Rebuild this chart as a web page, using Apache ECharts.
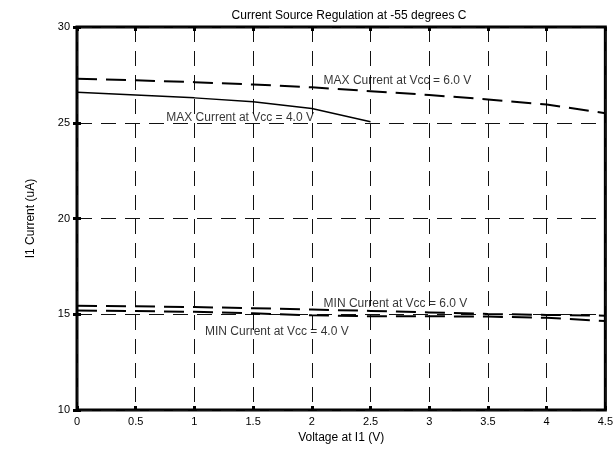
<!DOCTYPE html>
<html>
<head>
<meta charset="utf-8">
<script src="https://cdn.jsdelivr.net/npm/echarts@6/dist/echarts.min.js"></script>
<style>
html,body{margin:0;padding:0;background:#fff;}
#chart{width:616px;height:449px;}
</style>
</head>
<body>
<div id="chart"></div>
<script>
const voltage = [0, 0.5, 1, 1.5, 2, 2.5, 3, 3.5, 4, 4.5];
const max6 = [27.3, 27.22, 27.12, 27.0, 26.85, 26.65, 26.45, 26.22, 25.95, 25.5];
const voltage4 = [0, 0.5, 1, 1.5, 2, 2.5];
const max4 = [26.6, 26.45, 26.3, 26.1, 25.75, 25.05];
const min6 = [15.45, 15.42, 15.38, 15.32, 15.25, 15.18, 15.1, 15.02, 14.97, 14.93];
const min4 = [15.2, 15.17, 15.13, 15.05, 14.95, 14.9, 14.9, 14.88, 14.82, 14.65];
const labelText = ['MAX Current at Vcc = 6.0 V', 'MAX Current at Vcc = 4.0 V', 'MIN Current at Vcc = 6.0 V', 'MIN Current at Vcc = 4.0 V'];
const labelX = [2.1, 0.76, 2.1, 1.09];
const labelY = [27.2, 25.28, 15.54, 14.09];
const xTicks = ['0', '0.5', '1', '1.5', '2', '2.5', '3', '3.5', '4', '4.5'];
const yTicks = ['10', '15', '20', '25', '30'];

const FONT = "'Liberation Sans', Arial, Helvetica, sans-serif";
const chart = echarts.init(document.getElementById('chart'));
const pair = (xs, ys) => xs.map((x, i) => [x, ys[i]]);
const gridLine = { show: true, lineStyle: { color: '#111', width: 1, type: [15, 9] } };
const tickStyle = { show: true, inside: true, length: 4, lineStyle: { color: '#000', width: 3 } };
const fmtX = v => xTicks[Math.round(v / 0.5)];
const fmtY = v => yTicks[Math.round((v - 10) / 5)];

chart.setOption({
  animation: false,
  backgroundColor: '#fff',
  textStyle: { fontFamily: FONT },
  title: {
    text: 'Current Source Regulation at -55 degrees C',
    left: 344, top: 5, textAlign: 'center',
    textStyle: { fontFamily: FONT, fontSize: 12, fontWeight: 'normal', color: '#000' }
  },
  grid: { left: 77, right: 4, top: 27, bottom: 34, show: true, borderColor: '#000', borderWidth: 3, backgroundColor: 'transparent' },
  xAxis: [{
    type: 'value', min: 0, max: 4.5, interval: 0.5, position: 'bottom',
    name: 'Voltage at I1 (V)', nameLocation: 'middle', nameGap: 17,
    nameTextStyle: { fontFamily: FONT, fontSize: 12, color: '#000' },
    axisLine: { show: false }, axisTick: tickStyle,
    axisLabel: { fontFamily: FONT, fontSize: 11, color: '#000', margin: 6, formatter: fmtX },
    splitLine: gridLine
  }, {
    type: 'value', min: 0, max: 4.5, interval: 0.5, position: 'top',
    axisLine: { show: false }, axisTick: tickStyle, axisLabel: { show: false }, splitLine: { show: false }
  }],
  yAxis: [{
    type: 'value', min: 10, max: 30, interval: 5, position: 'left',
    name: 'I1 Current (uA)', nameLocation: 'middle', nameGap: 40,
    nameTextStyle: { fontFamily: FONT, fontSize: 12, color: '#000' },
    axisLine: { show: false }, axisTick: tickStyle,
    axisLabel: { fontFamily: FONT, fontSize: 11, color: '#000', margin: 7, formatter: fmtY },
    splitLine: gridLine
  }, {
    type: 'value', min: 10, max: 30, interval: 5, position: 'right',
    axisLine: { show: false }, axisTick: tickStyle, axisLabel: { show: false }, splitLine: { show: false }
  }],
  series: [
    { type: 'line', data: pair(voltage, max6), symbol: 'none', lineStyle: { color: '#000', width: 2, type: [20, 9] } },
    { type: 'line', data: pair(voltage4, max4), symbol: 'none', lineStyle: { color: '#000', width: 1.5, type: 'solid' } },
    { type: 'line', data: pair(voltage, min6), symbol: 'none', lineStyle: { color: '#000', width: 2, type: [20, 9] } },
    { type: 'line', data: pair(voltage, min4), symbol: 'none', lineStyle: { color: '#000', width: 2, type: [20, 9] } },
    {
      type: 'scatter', symbolSize: 0, z: 10,
      data: labelText.map((t, i) => ({ value: [labelX[i], labelY[i]], name: t })),
      label: { show: true, position: 'right', distance: 0, formatter: p => p.name,
        fontFamily: FONT, fontSize: 12, color: '#000' }
    }
  ]
});
</script>
</body>
</html>
